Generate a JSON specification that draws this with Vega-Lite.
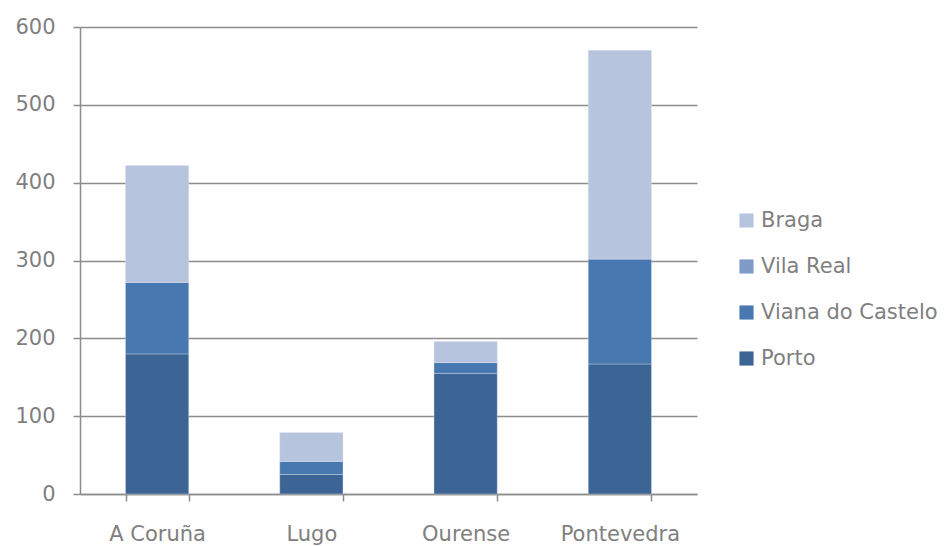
{
  "$schema": "https://vega.github.io/schema/vega-lite/v6.json",
  "width": 617,
  "height": 467,
  "autosize": {"type": "none"},
  "padding": {"left": 80, "top": 27, "right": 247, "bottom": 52},
  "background": "white",
  "data": {
    "values": [
      {"province": "A Coruña", "series": "Porto", "value": 180},
      {"province": "A Coruña", "series": "Viana do Castelo", "value": 92},
      {"province": "A Coruña", "series": "Vila Real", "value": 0},
      {"province": "A Coruña", "series": "Braga", "value": 150},
      {"province": "Lugo", "series": "Porto", "value": 25},
      {"province": "Lugo", "series": "Viana do Castelo", "value": 17},
      {"province": "Lugo", "series": "Vila Real", "value": 0},
      {"province": "Lugo", "series": "Braga", "value": 37},
      {"province": "Ourense", "series": "Porto", "value": 155},
      {"province": "Ourense", "series": "Viana do Castelo", "value": 14},
      {"province": "Ourense", "series": "Vila Real", "value": 0},
      {"province": "Ourense", "series": "Braga", "value": 27},
      {"province": "Pontevedra", "series": "Porto", "value": 167},
      {"province": "Pontevedra", "series": "Viana do Castelo", "value": 135},
      {"province": "Pontevedra", "series": "Vila Real", "value": 0},
      {"province": "Pontevedra", "series": "Braga", "value": 268}
    ]
  },
  "transform": [
    {"calculate": "indexof(['Porto','Viana do Castelo','Vila Real','Braga'], datum.series)", "as": "stackOrder"}
  ],
  "mark": {"type": "bar", "stroke": "#dfe6f0", "strokeWidth": 0.6, "strokeOpacity": 0.6},
  "encoding": {
    "x": {
      "field": "province",
      "type": "nominal",
      "sort": ["A Coruña", "Lugo", "Ourense", "Pontevedra"],
      "scale": {"paddingInner": 0.59, "paddingOuter": 0.295},
      "axis": {
        "title": null,
        "labelAngle": 0,
        "tickBand": "extent",
        "domainColor": "#8c8c8c",
        "domainWidth": 1.5,
        "tickColor": "#8c8c8c",
        "tickWidth": 1.5,
        "tickSize": 7,
        "labelPadding": 22,
        "labelFontSize": 21,
        "labelFont": "DejaVu Sans",
        "labelColor": "#7f7f7f"
      }
    },
    "y": {
      "field": "value",
      "type": "quantitative",
      "aggregate": "sum",
      "scale": {"domain": [0, 600], "nice": false},
      "axis": {
        "title": null,
        "values": [0, 100, 200, 300, 400, 500, 600],
        "grid": true,
        "gridColor": "#8c8c8c",
        "gridWidth": 1.5,
        "domainColor": "#8c8c8c",
        "domainWidth": 1.5,
        "tickColor": "#8c8c8c",
        "tickWidth": 1.5,
        "tickSize": 7,
        "labelPadding": 18,
        "labelFontSize": 21,
        "labelFont": "DejaVu Sans",
        "labelColor": "#7f7f7f"
      }
    },
    "color": {
      "field": "series",
      "type": "nominal",
      "scale": {
        "domain": ["Braga", "Vila Real", "Viana do Castelo", "Porto"],
        "range": ["#b7c4de", "#7f9bc8", "#4878b0", "#3c6596"]
      },
      "legend": {
        "title": null,
        "orient": "none",
        "legendX": 656,
        "legendY": 183,
        "symbolType": "square",
        "symbolSize": 200,
        "symbolStrokeWidth": 0,
        "labelFontSize": 21,
        "labelFont": "DejaVu Sans",
        "labelColor": "#7f7f7f",
        "labelOffset": 4,
        "labelLimit": 400,
        "rowPadding": 24
      }
    },
    "order": {"field": "stackOrder", "type": "quantitative"}
  },
  "config": {"view": {"stroke": null}}
}
